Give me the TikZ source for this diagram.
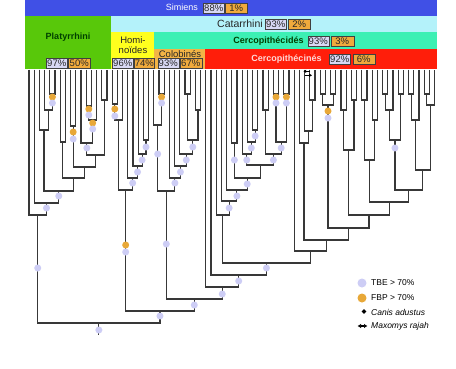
\documentclass[tikz,border=0pt]{standalone}
\usepackage{fontspec}
\setmainfont{Liberation Sans}
\usetikzlibrary{calc,arrows.meta}
\definecolor{simblue}{HTML}{4050E6}
\definecolor{catcyan}{HTML}{B4F2FA}
\definecolor{platgreen}{HTML}{58C80A}
\definecolor{homyellow}{HTML}{FFFF1E}
\definecolor{cercgreen}{HTML}{3CF0B4}
\definecolor{colorange}{HTML}{F2B446}
\definecolor{cercred}{HTML}{FF1E0A}
\definecolor{lav}{HTML}{CDCDF5}
\definecolor{fbp}{HTML}{E8A838}
\definecolor{pctlav}{HTML}{D8D8F4}
\definecolor{pctor}{HTML}{F0AA3C}
\newcommand\jn[4]{%
  \path ($(#3)!0.5!(#4)$) coordinate (jtmp);
  \path (jtmp |- 0,#2) coordinate (#1);
  \draw[br] (#3) |- (#1) -| (#4);
}
\newcommand\tb[3]{\node[tbe] (#1) at ($(#2)+(0,#3)$) {};}
\newcommand\fb[3]{\node[fbpc] (#1) at ($(#2)+(0,#3)$) {};}
\begin{document}
\begin{tikzpicture}[x=1pt,y=-1pt,
  br/.style={draw=black!78,line width=1.1pt},
  tbe/.style={circle,fill=lav,inner sep=0pt,minimum size=7pt},
  fbpc/.style={circle,fill=fbp,inner sep=0pt,minimum size=7pt},
  lbl/.style={font=\fontsize{9}{10}\selectfont,inner sep=0pt},
  pl/.style={draw=black!75,fill=pctlav,line width=0.5pt,inner xsep=0.5pt,inner ysep=0pt,minimum width=21pt,minimum height=10pt,font=\fontsize{9.5}{10}\selectfont,text=black!85},
  po/.style={pl,fill=pctor,minimum width=22pt},
  leg/.style={font=\fontsize{8.5}{10}\selectfont,anchor=west,inner sep=0pt}]
\useasboundingbox (0,0) rectangle (456,368);
\fill[white] (0,0) rectangle (456,368);
% header blocks
\fill[simblue] (25,0) rectangle (437,15.5);
\fill[catcyan] (111,15.5) rectangle (437,32);
\fill[platgreen] (25,15.5) rectangle (111,69);
\fill[homyellow] (111,32) rectangle (154,69);
\fill[cercgreen] (154,32) rectangle (437,49);
\fill[colorange] (154,49) rectangle (205,69);
\fill[cercred] (205,49) rectangle (437,69);
% header labels
\node[lbl,text=white] (simt) at (182,7.5) {Simiens};
\node[pl,anchor=west] (sim1) at (203,7.8) {88\%};
\node[po,anchor=west] (sim2) at ([xshift=0.5pt]sim1.east) {1\%};
\node[lbl,text=black!85,font=\fontsize{10.5}{11}\selectfont] (catt) at (240,24) {Catarrhini};
\node[pl,anchor=west] (cat1) at (265,24) {93\%};
\node[po,anchor=west] (cat2) at ([xshift=1.5pt]cat1.east) {2\%};
\node[lbl,text=black!75!green,font=\bfseries\fontsize{9}{10}\selectfont] (plat) at (68,37) {Platyrrhini};
\node[pl,anchor=east] (plat1) at (67.5,63) {97\%};
\node[po,anchor=west] (plat2) at ([xshift=0.5pt]plat1.east) {50\%};
\node[lbl,text=black!85,align=center,font=\fontsize{9.5}{9.5}\selectfont] (homt) at (133,45) {Homi-\\noïdes};
\node[pl,anchor=east] (hom1) at (133.5,63) {96\%};
\node[po,anchor=west,minimum width=20pt] (hom2) at ([xshift=0.5pt]hom1.east) {74\%};
\node[lbl,text=black!75!green,font=\bfseries\fontsize{9}{10}\selectfont] (cidt) at (268.5,41) {Cercopithécidés};
\node[pl,anchor=west] (cid1) at (307.5,41) {93\%};
\node[po,anchor=west,minimum width=23pt] (cid2) at ([xshift=1.5pt]cid1.east) {3\%};
\node[lbl,text=black!85,font=\fontsize{9.5}{10}\selectfont] (colt) at (180,54.5) {Colobinés};
\node[pl,anchor=east] (col1) at (179,63.5) {93\%};
\node[po,anchor=west] (col2) at ([xshift=0.5pt]col1.east) {67\%};
\node[lbl,text=red!15,font=\bfseries\fontsize{9}{10}\selectfont] (cint) at (286.5,59) {Cercopithécinés};
\node[pl,anchor=west] (cin1) at (329,59) {92\%};
\node[po,anchor=west] (cin2) at ([xshift=2pt]cin1.east) {6\%};
% leaves
\foreach \i in {0,...,78} \coordinate (L\i) at ({29+5.2*\i},69.5);
% ---------------- Platyrrhini (L0-L15)
\jn{d2}{94}{L4}{L5}
\jn{d1}{110}{L3}{d2}
\jn{D}{130}{L2}{d1}
\jn{E1}{142}{L6}{L7}
\jn{E3}{126}{L8}{L9}
\jn{E7}{106}{L11}{L12}
\jn{E6}{120}{E7}{L13}
\jn{E5}{143}{L10}{E6}
\jn{E9}{100}{L14}{L15}
\jn{E4}{155}{E5}{E9}
\jn{E2}{167}{E3}{E4}
\jn{E}{178}{E1}{E2}
\jn{C}{191}{D}{E}
\jn{B}{203}{L1}{C}
\jn{A}{215}{L0}{B}
% ---------------- Hominoids (L16-L23)
\jn{h1}{104}{L16}{L17}
\jn{hX}{120}{h1}{L18}
\jn{Y4}{140}{L22}{L23}
\jn{Y3}{154}{L21}{Y4}
\jn{Y2}{166}{L20}{Y3}
\jn{Y1}{178}{L19}{Y2}
\jn{H}{190}{hX}{Y1}
% ---------------- Colobines (L24-L33)
\jn{g0}{94}{L25}{L26}
\jn{G1}{125}{L24}{g0}
\jn{G6}{94}{L30}{L31}
\jn{G7}{110}{L32}{L33}
\jn{G5}{140}{G6}{G7}
\jn{G4}{154}{L29}{G5}
\jn{G3}{166}{L28}{G4}
\jn{G2}{178}{L27}{G3}
\jn{Gb}{191}{G1}{G2}
% ---------------- Cercopithecines (L34-L78)
\jn{Z4L}{143}{L39}{L40}
\jn{Q1c}{130}{L43}{L44}
\jn{Q1b}{142}{L42}{Q1c}
\jn{Q1}{154}{L41}{Q1b}
\jn{Q2a}{110}{L45}{L46}
\jn{Q2c}{94}{L47}{L48}
\jn{Q2d}{94}{L49}{L50}
\jn{Q2b}{142}{Q2c}{Q2d}
\jn{Q2}{154}{Q2a}{Q2b}
\jn{Z4R}{165}{Q1}{Q2}
\jn{Z4}{178}{Z4L}{Z4R}
\jn{Z3}{190}{L38}{Z4}
\jn{Z2}{201}{L37}{Z3}
\jn{Z1}{215}{L36}{Z2}
\jn{Mc2}{100}{L54}{L55}
\jn{Mc}{131}{L53}{Mc2}
\jn{Ma}{143}{L52}{Mc}
\jn{Md1}{94}{L56}{L57}
\jn{Md2}{94}{L58}{L59}
\jn{Md}{105}{Md1}{Md2}
\jn{Mf1}{110}{L60}{L61}
\jn{Mf2}{100}{L62}{L63}
\jn{Mf}{150}{Mf1}{Mf2}
\jn{Mh1}{100}{L64}{L65}
\jn{Mh2}{120}{L66}{L67}
\jn{Mh}{160}{Mh1}{Mh2}
\jn{Mj1a}{94}{L68}{L69}
\jn{Mj1}{110}{Mj1a}{L70}
\jn{Mj2}{94}{L71}{L72}
\jn{Mj}{140}{Mj1}{Mj2}
\jn{Mk1a}{94}{L73}{L74}
\jn{Mk1}{120}{Mk1a}{L75}
\jn{Mk2a}{94}{L76}{L77}
\jn{Mk2}{105}{Mk2a}{L78}
\jn{Mk}{170}{Mk1}{Mk2}
\jn{Mi}{190}{Mj}{Mk}
\jn{Mg}{202}{Mh}{Mi}
\jn{Me}{215}{Mf}{Mg}
\jn{Mb}{228}{Md}{Me}
\jn{M2}{240}{Ma}{Mb}
\jn{N1}{251}{L51}{M2}
\jn{N2}{263}{Z1}{N1}
\jn{N3}{275}{L35}{N2}
\jn{K}{287}{L34}{N3}
% ---------------- backbone
\jn{cid}{299}{Gb}{K}
\jn{cat}{311}{H}{cid}
\jn{root}{323}{A}{cat}
\draw[br] (root) -- ++(0,12) coordinate (rootend);
% ---------------- support circles
\tb{t0}{root}{7}
\tb{t1}{cat}{5}
\tb{t2}{cid}{6}
\tb{t3}{K}{7}
\tb{t4}{N3}{6}
\tb{t5}{N2}{5}
\fb{f1}{H}{55}
\tb{t6}{H}{62}
\tb{t7}{Gb}{53}
\tb{t8}{A}{53}
\tb{t9}{B}{5}
\tb{t10}{C}{5}
\fb{f2}{d2}{3}
\tb{t11}{d2}{9}
\fb{f3}{E3}{6}
\tb{t12}{E3}{13}
\fb{f4}{E7}{3}
\tb{t13}{E7}{9}
\fb{f5}{E6}{3}
\tb{t14}{E6}{9}
\tb{t15}{E5}{5}
\fb{f6}{h1}{5}
\tb{t16}{h1}{12}
\tb{t17}{Y1}{5}
\tb{t18}{Y2}{6}
\tb{t19}{Y3}{6}
\tb{t20}{Y4}{7}
\fb{f7}{g0}{3}
\tb{t21}{g0}{9}
\tb{t22}{G1}{29}
\tb{t23}{G2}{5}
\tb{t24}{G3}{6}
\tb{t25}{G4}{6}
\tb{t26}{G5}{7}
\tb{t27}{Z2}{7}
\tb{t28}{Z3}{6}
\tb{t29}{Z4}{6}
\tb{t30}{Z4L}{17}
\tb{t31}{Q1}{6}
\tb{t32}{Q1b}{6}
\tb{t33}{Q1c}{6}
\fb{f8}{Q2c}{3}
\tb{t34}{Q2c}{9}
\fb{f9}{Q2d}{3}
\tb{t35}{Q2d}{9}
\tb{t36}{Q2b}{6}
\tb{t37}{Q2}{6}
\fb{f10}{Md}{6}
\tb{t38}{Md}{13}
\tb{t39}{Mj}{8}
% ---------------- marker (Maxomys rajah)
\path ($(L53)!0.5!(L54)$) coordinate (mkc);
\draw[-{Latex[length=3pt,width=3.5pt]},line width=1pt] ($(mkc)+(3,1.8)$) -- ++(-7,0) coordinate (mk1);
\draw[-{Latex[length=3pt,width=3.5pt]},line width=1pt] ($(mkc)+(-2,5.8)$) -- ++(7,0) coordinate (mk2);
% ---------------- legend
\node[tbe,minimum size=9pt] (lg1) at (362,283) {};
\node[leg] (lg1t) at (371,283) {TBE > 70\%};
\node[fbpc,minimum size=9pt] (lg2) at (362,298) {};
\node[leg] (lg2t) at (371,298) {FBP > 70\%};
\node[fill=black,inner sep=0pt,minimum size=3.5pt,rotate=45] (lg3) at (364,311.5) {};
\node[leg,font=\itshape\fontsize{8.5}{10}\selectfont] (lg3t) at (371,312) {Canis adustus};
\draw[{Latex[length=3.5pt,width=4.5pt]}-{Latex[length=3.5pt,width=4.5pt]},line width=1.2pt] (357.5,326) -- (367.5,326) coordinate (lg4);
\node[leg,font=\itshape\fontsize{8.5}{10}\selectfont] (lg4t) at (371,326) {Maxomys rajah};
\end{tikzpicture}
\end{document}
